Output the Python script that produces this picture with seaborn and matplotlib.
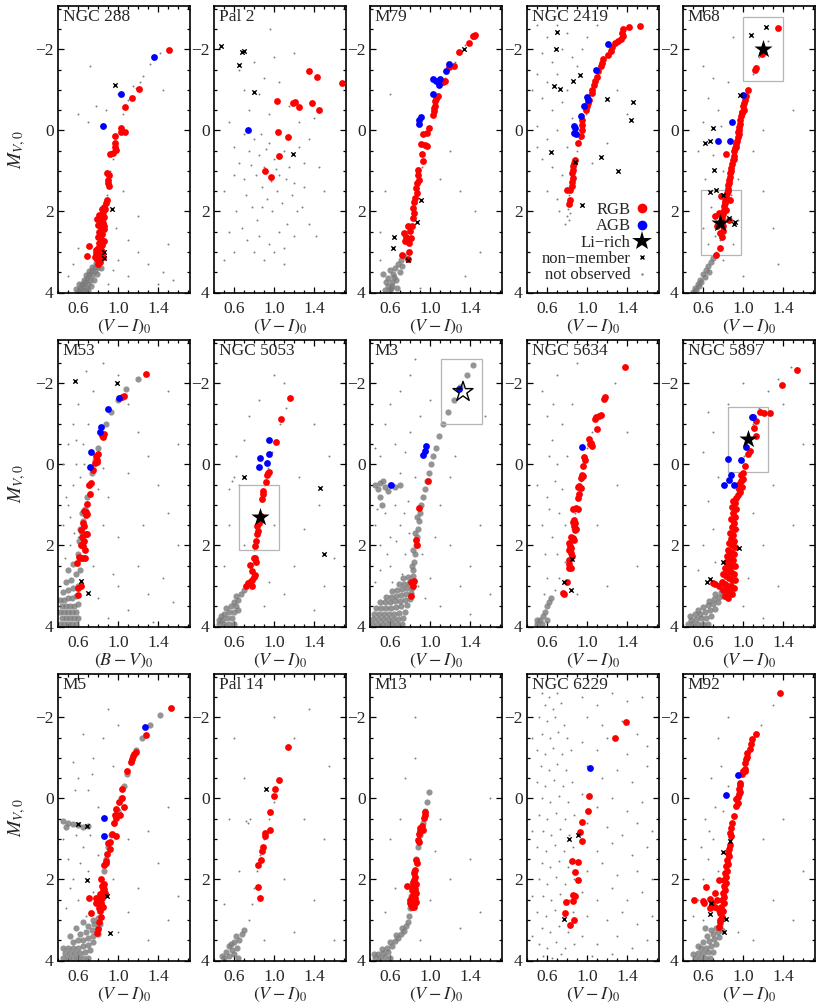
import matplotlib
matplotlib.use("Agg")
import matplotlib.pyplot as plt
import seaborn as sns
from matplotlib.lines import Line2D
from matplotlib.patches import Rectangle
from matplotlib.ticker import MultipleLocator

# ---------------- data (colour, M_V) ----------------
# NGC 288
n288_rgb = [(1.51,-1.99),(1.21,-1.02),(1.14,-0.79),(1.07,-0.58),(1.03,-0.05),(1.03,0.03),(1.07,0.05),
            (0.97,0.13),(0.97,0.30),(0.97,0.40),(0.98,0.49),(0.95,0.56),(0.92,0.58),(0.89,1.04),(0.91,1.09),
            (0.90,1.22),(0.90,1.30),(0.91,1.38),(0.89,1.72),(0.88,1.80),(0.86,1.88),(0.84,1.94),(0.85,2.02),
            (0.81,2.08),(0.83,2.12),(0.86,2.14),(0.79,2.18),(0.82,2.24),(0.85,2.28),(0.80,2.34),(0.83,2.40),
            (0.86,2.44),(0.81,2.50),(0.84,2.56),(0.80,2.62),(0.83,2.68),(0.86,2.72),(0.81,2.78),(0.84,2.84),
            (0.80,2.90),(0.83,2.96),(0.78,3.02),(0.81,3.08),(0.85,3.12),(0.79,3.18),(0.82,3.24),(0.80,3.30),
            (0.71,2.86),(0.69,3.09),(0.77,3.12),(0.84,3.00),(0.78,2.95),(0.86,2.35),(0.87,1.95)]
n288_agb = [(1.36,-1.81),(1.03,-0.90),(0.85,-0.12)]
n288_nm = [(0.97,-1.12),(0.94,1.94),(0.86,3.00),(0.86,3.14)]
n288_dense = [(0.60,3.98),(0.63,3.95),(0.66,3.97),(0.62,3.88),(0.65,3.85),(0.68,3.88),(0.64,3.78),(0.67,3.75),
              (0.70,3.78),(0.66,3.68),(0.69,3.65),(0.72,3.68),(0.68,3.58),(0.71,3.55),(0.74,3.58),(0.71,3.48),
              (0.74,3.45),(0.77,3.48),(0.74,3.38),(0.77,3.36),(0.80,3.38),(0.78,3.28),(0.81,3.25),(0.70,3.95),
              (0.73,3.85),(0.76,3.70),(0.79,3.55),(0.83,3.40),(0.58,3.92),(0.61,3.80)]
n288_field = [(0.84,3.10),(0.86,2.80),(0.84,2.50),(0.87,2.20),(0.85,1.90),(0.89,1.60),(0.90,1.30),(0.92,1.00),
              (0.95,0.70),(0.98,0.35),(1.02,0.00),(1.05,-0.40),(1.10,-0.75),(1.18,-1.05),(1.25,-1.35),
              (1.32,-1.65),(1.42,-1.90),(0.72,-1.60),(0.60,-0.40),(0.78,-0.60),(0.88,-0.50),(1.00,-0.90),
              (1.15,-1.10),(1.45,-1.00),(1.22,-1.20),(0.70,-0.20),(1.20,2.10),(1.05,1.50),(1.30,3.30),
              (1.45,3.50),(1.10,3.60),(0.95,3.45),(1.40,3.80),(1.55,3.70),(0.90,3.80),(1.00,3.20),(0.50,3.60),
              (0.55,3.30),(0.60,2.90),(1.20,3.00),(1.10,2.70),(0.98,2.40),(1.50,2.80)]

# Pal 2
pal2_rgb = [(1.35,-1.46),(1.43,-1.33),(1.68,-1.16),(1.03,-0.73),(1.19,-0.67),(1.21,-0.69),(1.25,-0.58),
            (1.38,-0.67),(1.45,-0.51),(1.04,0.04),(1.14,0.16),(1.05,0.62),(0.91,1.00),(0.97,1.15)]
pal2_agb = [(0.74,0.00)]
pal2_nm = [(0.47,-2.09),(0.68,-1.94),(0.70,-1.95),(0.65,-1.61),(0.80,-0.96),(1.19,0.59)]
pal2_field = [(0.55,-0.2),(0.60,0.4),(0.65,0.8),(0.70,1.2),(0.75,0.5),(0.80,0.2),(0.85,0.6),(0.90,0.9),
              (0.95,0.3),(1.00,0.7),(1.05,1.1),(1.10,0.5),(1.15,0.9),(1.20,1.3),(1.25,0.4),(1.30,0.8),
              (0.72,1.6),(0.78,1.9),(0.83,2.2),(0.88,1.4),(0.93,1.7),(0.98,2.0),(1.03,1.5),(1.08,1.8),
              (1.13,2.3),(1.18,1.6),(1.23,2.0),(1.28,1.9),(0.62,2.0),(0.68,2.4),(0.73,2.7),(0.85,2.6),
              (0.95,2.8),(1.05,2.5),(1.10,2.9),(1.20,2.6),(0.50,1.5),(0.55,2.5),(0.60,3.0),(0.80,3.0),
              (0.90,3.2),(1.00,3.0),(0.75,-0.5),(0.85,-0.9),(0.95,-0.4),(1.05,-1.2),(1.15,-0.6),(1.25,-0.2),
              (1.35,0.2),(1.40,-0.3),(1.45,0.9),(1.50,1.5),(1.35,2.3),(0.70,-1.0),(0.65,-1.5),(0.80,-1.7),
              (0.90,-1.3),(1.00,-1.8),(1.20,-1.9),(0.87,0.1),(0.92,0.45),(0.82,1.1),(0.77,0.85),(0.97,1.25),
              (1.02,0.95),(1.12,1.2),(0.88,1.9),(0.70,0.1),(0.60,1.1),(0.96,-2.5),(1.30,1.4),(1.42,2.6),
              (0.50,3.2),(1.10,3.3)]

# M79
m79_rgb = [(1.45,-2.35),(1.44,-2.34),(1.43,-2.32),(1.39,-2.16),(1.29,-1.93),(1.24,-1.60),(1.19,-1.56),
           (1.15,-1.23),(1.13,-1.19),(1.08,-0.86),(1.06,-0.77),(1.05,-0.73),(1.05,-0.61),(1.04,-0.55),
           (1.04,-0.47),(1.03,-0.39),(0.99,-0.07),(0.97,0.07),(0.93,0.08),(0.91,0.34),(0.95,0.36),
           (0.97,0.38),(0.92,0.58),(0.93,0.75),(0.88,0.97),(0.88,1.09),(0.89,1.22),(0.87,1.30),(0.86,1.42),
           (0.87,1.55),(0.85,1.67),(0.84,1.77),(0.83,1.92),(0.84,2.04),(0.83,2.16),(0.82,2.37),(0.80,2.49),
           (0.78,2.35),(0.74,2.53),(0.76,2.63),(0.78,2.72),(0.79,2.78),(0.81,2.66),(0.75,2.74),(0.79,3.00),
           (0.72,3.08),(0.78,3.17)]
m79_agb = [(1.19,-1.65),(1.16,-1.47),(1.03,-1.27),(1.10,-1.28),(1.06,-1.21),(1.09,-1.13),(1.03,-0.90),
           (0.91,-0.33),(0.89,-0.25),(0.89,-0.16)]
m79_nm = [(1.34,-2.02),(0.91,1.71),(0.87,2.26),(0.64,2.64),(0.63,2.91),(0.78,3.21)]
m79_dense = [(0.55,3.95),(0.58,3.85),(0.60,3.95),(0.62,3.75),(0.58,3.65),(0.63,3.55),(0.60,3.45),(0.65,3.40),
             (0.68,3.30),(0.62,3.85),(0.66,3.70),(0.70,3.50),(0.72,3.35),(0.56,3.75),(0.67,3.90),(0.61,3.90),
             (0.64,3.62),(0.53,3.55),(0.71,3.20),(0.74,3.10)]
m79_field = [(0.78,3.0),(0.80,2.6),(0.83,2.2),(0.86,1.8),(0.89,1.3),(0.92,0.9),(0.96,0.4),(1.00,0.0),
             (1.04,-0.5),(1.08,-0.9),(1.15,-1.3),(1.25,-1.7),(1.35,-2.1),(0.60,-0.9),(0.50,2.5),(1.10,1.2),
             (1.30,1.5),(1.45,2.0),(1.50,3.0),(1.35,3.6),(0.90,3.9),(0.50,3.2),(0.55,1.5),(1.20,0.5)]

# NGC 2419
n2419_rgb = [(1.53,-2.58),(1.42,-2.56),(1.36,-2.50),(1.35,-2.40),(1.36,-2.32),(1.34,-2.26),(1.31,-2.20),
             (1.28,-2.16),(1.25,-2.07),(1.24,-1.95),(1.21,-1.87),(1.16,-1.75),(1.15,-1.66),(1.14,-1.58),
             (1.11,-1.46),(1.10,-1.33),(1.08,-1.21),(1.07,-1.13),(1.05,-1.00),(1.05,-0.92),(1.02,-0.76),
             (1.01,-0.67),(1.00,-0.59),(0.99,-0.51),(0.95,-0.26),(0.95,-0.14),(0.95,-0.02),(0.94,0.15),
             (0.91,0.31),(0.88,0.72),(0.87,0.81),(0.86,0.89),(0.86,0.97),(0.85,1.05),(0.86,1.18),(0.85,1.28),
             (0.85,1.38),(0.83,1.47),(0.80,1.48),(0.83,1.71),(0.82,1.81)]
n2419_agb = [(1.21,-2.14),(1.09,-1.50),(1.00,-0.82),(1.01,-0.74),(0.97,-0.61),(0.94,-0.36),(0.87,-0.12),
             (0.88,-0.06),(0.87,0.07),(0.89,0.09)]
n2419_nm = [(0.70,-2.44),(0.69,-2.02),(0.93,-1.36),(0.86,-1.23),(0.67,-1.10),(0.73,-1.02),(1.20,-0.77),
            (1.46,-0.70),(1.44,-0.25),(0.64,0.54),(1.14,0.66),(1.31,1.01),(0.95,1.84),(0.88,0.79)]
n2419_field = [(0.82,2.2),(0.83,2.05),(0.81,1.95),(0.84,1.85),(0.82,1.6),(0.85,1.4),(0.84,1.2),(0.87,1.0),
               (0.86,0.8),(0.90,0.5),(0.93,0.2),(0.96,-0.1),(0.99,-0.4),(1.02,-0.7),(1.05,-1.0),(1.10,-1.3),
               (1.15,-1.65),(1.22,-2.0),(1.30,-2.2),(0.80,2.1),(0.83,1.7),(0.80,1.5),(0.50,-2.6),(0.60,-2.3),
               (0.70,-2.6),(0.80,-2.4),(0.55,-1.9),(0.65,-1.7),(0.75,-2.0),(0.85,-1.8),(0.50,-1.4),(0.60,-1.2),
               (0.70,-1.4),(0.80,-1.0),(0.90,-1.6),(0.55,-0.8),(0.65,-0.5),(0.75,-0.7),(0.85,-0.3),(0.50,-0.1),
               (0.60,0.2),(0.70,0.0),(0.80,0.4),(0.55,0.7),(0.65,0.9),(0.75,1.1),(0.60,1.5),(0.70,1.7),
               (1.00,-2.3),(1.10,-2.6),(0.95,-2.0),(1.30,-1.0),(1.40,-0.4),(1.20,0.3),(1.05,0.8),(0.72,2.0),
               (0.78,2.3),(0.50,0.4),(0.45,-1.0)]

# M68
m68_rgb = [(1.35,-2.52),(1.19,-1.89),(1.13,-1.54),(1.12,-1.48),(1.05,-1.00),(1.03,-0.84),(1.02,-0.76),
           (1.01,-0.67),(1.00,-0.59),(1.01,-0.51),(0.99,-0.43),(0.98,-0.35),(0.97,-0.25),(0.97,-0.16),
           (0.96,-0.08),(0.96,0.00),(0.96,0.08),(0.95,0.16),(0.94,0.25),(0.93,0.33),(0.92,0.44),(0.91,0.52),
           (0.91,0.63),(0.90,0.72),(0.89,0.82),(0.88,0.93),(0.87,1.04),(0.87,1.14),(0.86,1.23),(0.85,1.34),
           (0.85,1.45),(0.84,1.55),(0.83,1.65),(0.82,1.75),(0.81,1.86),(0.81,1.96),(0.80,2.06),(0.79,2.16),
           (0.79,2.27),(0.80,2.37),(0.80,2.49),(0.79,2.63),(0.78,1.63),(0.87,1.71),(0.76,2.04),(0.83,1.96),
           (0.72,2.12),(0.86,2.21),(0.74,2.37),(0.77,2.53),(0.985,-0.45),(0.95,0.05),(0.93,0.40),(0.905,0.70),
           (0.88,1.00),(0.86,1.30),(0.845,1.50),(0.82,1.80),(0.77,2.90),(0.73,3.07),(0.83,0.58)]
m68_agb = [(1.00,-0.88),(0.89,-0.20),(0.75,0.25),(0.87,0.26)]
m68_nm = [(1.23,-2.54),(1.08,-2.35),(0.97,-0.88),(0.70,-0.07),(0.67,0.25),(0.62,0.30),(0.71,0.97),
          (0.67,1.51),(0.73,1.46),(0.80,1.59),(0.86,2.16),(0.91,2.30),(0.92,2.27)]
m68_li = [(1.20,-2.01),(0.77,2.29)]
m68_boxes = [(1.00,-2.81,0.40,1.60),(0.58,1.47,0.40,1.60)]
m68_dense = [(0.50,3.98),(0.52,3.88),(0.55,3.78),(0.57,3.68),(0.60,3.55),(0.63,3.45),(0.65,3.35),(0.68,3.25),
             (0.70,3.15),(0.53,3.95),(0.56,3.85),(0.58,3.75),(0.62,3.62),(0.66,3.50)]
m68_field = [(0.73,3.0),(0.77,2.7),(0.80,2.3),(0.83,1.8),(0.86,1.3),(0.90,0.8),(0.93,0.3),(0.96,-0.2),
             (0.99,-0.6),(1.04,-1.0),(1.10,-1.4),(1.16,-1.8),(1.25,-2.2),(0.60,-1.6),(0.70,-1.3),(0.65,-0.8),
             (0.75,-0.5),(0.60,-0.2),(0.70,0.6),(0.80,1.0),(0.62,1.2),(0.68,1.9),(0.60,2.4),(0.72,2.6),
             (0.90,2.8),(0.95,2.2),(0.88,1.6),(0.95,1.2),(1.10,0.5),(1.20,0.0),(1.30,2.4),(1.35,3.3),
             (1.50,-0.5),(0.85,-1.2),(0.90,-2.3),(0.55,0.5),(0.78,-0.1),(0.80,3.2),(1.00,3.6),(1.20,1.5),
             (0.65,2.8)]

# M53
m53_rgb = [(1.28,-2.23),(1.06,-1.69),(1.04,-1.67),(0.86,-0.76),(0.85,-0.68),(0.84,-0.72),(0.80,-0.25),
           (0.78,-0.21),(0.79,-0.12),(0.77,-0.04),(0.79,-0.06),(0.75,0.14),(0.73,0.47),(0.71,0.52),
           (0.72,0.72),(0.69,0.97),(0.66,1.14),(0.68,1.18),(0.69,1.22),(0.68,1.26),(0.65,1.45),(0.66,1.53),
           (0.63,1.61),(0.68,1.71),(0.69,1.71),(0.64,1.79),(0.66,1.90),(0.63,1.98),(0.65,2.02),(0.67,2.11),
           (0.61,2.29),(0.65,2.31),(0.63,2.31),(0.59,2.44),(0.67,2.31),(0.63,3.00),(0.60,3.06),(0.60,3.22)]
m53_agb = [(1.01,-1.65),(0.90,-1.36),(0.83,-0.93),(0.82,-0.79),(0.73,-0.31),(0.72,0.07)]
m53_nm = [(0.57,-2.05),(0.99,-2.00),(0.63,2.87),(0.70,3.17)]
m53_dense = [(0.42,3.95),(0.46,3.95),(0.50,3.95),(0.54,3.95),(0.58,3.95),(0.44,3.80),(0.48,3.80),(0.52,3.80),
             (0.56,3.80),(0.60,3.80),(0.42,3.65),(0.46,3.65),(0.50,3.65),(0.54,3.65),(0.58,3.65),(0.44,3.50),
             (0.48,3.50),(0.52,3.50),(0.56,3.50),(0.60,3.45),(0.42,3.35),(0.46,3.35),(0.50,3.30),(0.54,3.30),
             (0.58,3.25),(0.45,3.15),(0.50,3.10),(0.55,3.05),(0.60,3.00),(0.48,2.90),(0.53,2.85),(0.58,2.70),
             (0.62,2.60),(0.50,2.60),(0.55,2.45),(0.62,2.30),(0.63,2.00),(0.64,1.70),(0.65,1.40),(0.67,1.10),
             (0.69,0.80),(0.71,0.50),(0.74,0.20),(0.77,-0.10),(0.80,-0.40),(0.84,-0.70),(0.88,-1.00),
             (0.93,-1.30),(1.00,-1.60),(1.08,-1.85),(1.20,-2.10),(0.60,2.20),(0.61,1.90),(0.62,1.60),(0.64,1.20)]
m53_field = [(0.45,1.5),(0.50,1.0),(0.55,0.5),(0.45,0.0),(0.50,-0.5),(0.55,-1.0),(0.60,1.8),(0.52,2.0),
             (0.58,0.0),(0.65,-0.5),(0.70,-1.0),(0.60,-1.5),(0.75,-1.8),(0.68,-2.3),(0.85,-2.5),(1.00,-2.2),
             (1.10,-1.5),(1.20,-0.8),(1.30,-0.2),(1.40,0.5),(1.50,1.2),(1.60,2.0),(1.45,2.8),(1.55,3.4),
             (1.30,3.2),(1.20,2.5),(1.00,1.8),(0.90,0.8),(1.10,0.2),(0.95,2.7),(0.80,3.3),(0.90,3.8),
             (1.10,3.6),(1.35,3.9),(1.25,1.5),(0.85,1.5),(0.75,2.5),(1.00,3.0),(1.60,-0.5),(1.50,-1.8),
             (0.48,0.8),(0.52,1.3),(0.56,1.7),(0.47,2.3),(0.62,0.3),(0.66,0.0),(0.72,-0.3),(0.58,-0.6),
             (0.80,0.6),(0.85,0.1)]

# NGC 5053
n5053_rgb = [(1.16,-1.65),(1.07,-1.12),(1.02,-0.55),(0.95,0.19),(0.94,0.21),(0.93,0.26),(0.92,0.43),
             (0.89,0.66),(0.89,0.74),(0.88,0.85),(0.87,1.28),(0.85,1.45),(0.83,1.53),(0.84,1.65),(0.83,1.71),
             (0.82,1.90),(0.81,2.02),(0.81,2.31),(0.82,2.40),(0.80,2.31),(0.76,2.48),(0.78,2.62),(0.81,2.73),
             (0.80,2.79),(0.78,2.85),(0.76,2.89),(0.74,2.93),(0.72,3.00),(0.78,3.00)]
n5053_agb = [(0.95,-0.60),(0.86,-0.17),(0.95,-0.26),(0.85,0.06),(0.93,-0.04)]
n5053_nm = [(0.70,0.30),(1.46,0.58),(1.50,2.21)]
n5053_li = [(0.86,1.30)]
n5053_boxes = [(0.65,0.50,0.40,1.61)]
n5053_dense = [(0.45,3.95),(0.50,3.95),(0.55,3.95),(0.60,3.95),(0.48,3.85),(0.53,3.80),(0.58,3.80),(0.50,3.70),
               (0.55,3.65),(0.60,3.65),(0.52,3.55),(0.57,3.50),(0.62,3.50),(0.60,3.40),(0.64,3.35),(0.62,3.25),
               (0.67,3.20),(0.70,3.10),(0.47,3.75),(0.64,3.60),(0.45,3.85)]
n5053_field = [(0.74,2.9),(0.78,2.5),(0.80,2.1),(0.82,1.7),(0.84,1.3),(0.87,0.9),(0.90,0.5),(0.94,0.1),
               (0.98,-0.3),(1.02,-0.6),(1.06,-1.0),(1.12,-1.4),(0.60,0.3),(0.65,0.5),(0.55,0.6),(0.70,-0.6),
               (0.75,-1.2),(0.85,-1.6),(1.00,-2.2),(1.10,-2.0),(1.40,-1.0),(1.55,-0.2),(1.45,1.0),(1.30,1.6),
               (1.20,2.5),(1.50,3.0),(1.40,3.6),(1.10,3.2),(0.95,2.9),(0.90,3.5),(1.60,2.3),(0.55,1.5),
               (0.50,2.5),(0.70,2.0),(1.00,1.5),(1.25,0.3),(0.62,-0.2),(0.58,0.4)]

# M3
m3_rgb = [(0.98,0.41),(0.89,1.07),(0.86,1.86),(0.87,2.00),(0.84,2.87),(0.81,2.91),(0.83,3.00),(0.81,3.25)]
m3_agb = [(1.29,-1.86),(0.96,-0.45),(0.95,-0.33),(0.93,-0.22),(0.61,0.50)]
m3_li_open = [(1.33,-1.79)]
m3_boxes = [(1.11,-2.59,0.41,1.59)]
m3_dense = [(0.42,3.95),(0.47,3.95),(0.52,3.95),(0.57,3.95),(0.62,3.95),(0.67,3.95),(0.72,3.95),
            (0.43,3.82),(0.48,3.82),(0.53,3.82),(0.58,3.82),(0.63,3.82),(0.68,3.82),(0.73,3.80),
            (0.44,3.68),(0.49,3.68),(0.54,3.68),(0.59,3.68),(0.64,3.68),(0.69,3.66),(0.75,3.64),
            (0.46,3.54),(0.51,3.54),(0.56,3.54),(0.61,3.54),(0.66,3.52),(0.71,3.50),(0.77,3.48),
            (0.50,3.40),(0.55,3.40),(0.60,3.40),(0.65,3.38),(0.70,3.36),(0.75,3.34),(0.80,3.32),
            (0.56,3.26),(0.61,3.26),(0.66,3.24),(0.71,3.22),(0.76,3.20),(0.81,3.18),
            (0.62,3.12),(0.67,3.10),(0.72,3.08),(0.77,3.06),(0.82,3.04),
            (0.69,2.96),(0.74,2.94),(0.79,2.92),(0.83,2.90),(0.73,2.80),(0.78,2.78),(0.83,2.76),
            (0.83,2.60),(0.84,2.40),(0.85,2.20),(0.86,2.00),(0.87,1.80),(0.88,1.60),(0.89,1.40),
            (0.90,1.20),(0.91,1.00),(0.93,0.80),(0.95,0.60),(0.97,0.40),(0.99,0.20),(1.01,0.00),
            (1.03,-0.20),(1.06,-0.40),(1.09,-0.70),(1.13,-1.00),(1.18,-1.30),(1.24,-1.60),(1.30,-1.90),
            (1.37,-2.20),(1.43,-2.45),(0.82,2.50),(0.83,2.10),(0.85,1.70),(0.87,1.30),
            (0.45,0.50),(0.50,0.45),(0.55,0.55),(0.60,0.50),(0.65,0.55),(0.70,0.50),(0.48,0.60),
            (0.53,0.40),(0.58,0.65),(0.50,0.80),(0.52,1.00)]
m3_field = [(0.45,1.5),(0.50,2.0),(0.55,1.2),(0.60,1.8),(0.65,1.0),(0.70,1.5),(0.75,2.2),(0.60,2.5),
            (0.50,2.6),(0.70,0.2),(0.75,-0.3),(0.80,-0.8),(0.65,-0.5),(0.55,-1.0),(0.60,-1.5),(0.70,-1.8),
            (0.80,-2.2),(0.85,-2.6),(0.90,-1.2),(1.00,-1.6),(1.10,1.0),(1.20,2.0),(1.30,3.0),(1.40,2.5),
            (1.50,1.5),(1.10,3.5),(1.00,2.8),(0.95,3.3),(1.20,0.3),(1.05,1.8),(1.40,3.7),(1.60,3.2),
            (0.45,-0.4),(0.50,-0.2),(0.45,2.9),(0.78,0.9),(0.85,0.3),(0.72,2.7),(1.25,-0.2),(1.55,-1.2),
            (0.88,3.0),(0.92,2.2),(0.47,1.1),(0.57,2.2),(0.66,1.9),(0.74,1.2),(0.79,1.7),(0.62,2.9)]

# NGC 5634
n5634_rgb = [(1.38,-2.41),(1.18,-1.67),(1.17,-1.61),(1.14,-1.21),(1.12,-1.20),(1.09,-1.16),(1.08,-1.13),
             (1.10,-0.88),(1.02,-0.62),(1.04,-0.54),(1.05,-0.45),(1.03,-0.50),(0.97,-0.18),(0.98,-0.12),
             (0.96,0.04),(0.95,0.25),(0.94,0.33),(0.96,0.29),(0.92,0.54),(0.91,0.55),(0.94,0.58),(0.92,0.74),
             (0.91,0.83),(0.89,1.07),(0.86,1.09),(0.91,1.09),(0.87,1.36),(0.86,1.43),(0.88,1.45),(0.87,1.53),
             (0.89,1.60),(0.88,1.61),(0.84,1.78),(0.86,1.82),(0.87,1.86),(0.82,1.94),(0.83,2.02),(0.84,2.07),
             (0.82,2.11),(0.84,2.19),(0.85,2.27),(0.82,2.36),(0.82,2.45),(0.84,2.56),(0.82,2.56),(0.80,2.91),
             (0.76,3.18),(0.77,3.21)]
n5634_agb = [(0.95,-0.44)]
n5634_nm = [(0.77,2.91),(0.84,3.10),(0.85,2.34)]
n5634_dense = [(0.50,3.95),(0.53,3.85),(0.56,3.75),(0.55,3.95),(0.58,3.65),(0.60,3.50),(0.62,3.40),(0.64,3.30),
               (0.50,3.85),(0.60,3.85)]
n5634_field = [(0.68,3.1),(0.72,2.8),(0.78,2.4),(0.82,2.0),(0.85,1.6),(0.88,1.2),(0.91,0.8),(0.94,0.4),
               (0.97,0.0),(1.00,-0.4),(1.05,-0.8),(1.10,-1.2),(1.18,-1.6),(1.28,-2.0),(0.55,-1.8),(0.60,-1.2),
               (0.65,-0.6),(0.70,0.0),(0.75,0.6),(0.60,0.8),(0.55,1.5),(0.65,1.8),(0.70,2.2),(0.60,2.8),
               (0.80,-0.2),(0.75,-1.0),(0.85,-1.5),(0.70,-2.2),(0.90,-2.5),(0.62,-0.2),(0.68,0.4),(0.72,1.2),
               (0.78,1.5),(0.58,2.2),(0.50,0.5),(1.10,1.5),(1.30,0.5),(1.50,2.5),(1.20,3.0),(0.90,3.2),
               (1.40,-0.8),(0.66,-1.5),(0.62,1.1),(0.57,3.2)]

# NGC 5897
n5897_rgb = [(1.54,-2.34),(1.39,-1.97),(1.27,-1.26),(1.17,-1.30),(1.21,-1.26),(1.13,-1.07),(1.11,-0.89),
             (1.13,-0.69),(1.07,-0.33),(1.05,-0.25),(1.02,0.04),(1.00,0.20),(0.98,0.25),(1.00,0.35),
             (0.98,0.42),(0.96,0.48),(0.99,0.55),(0.96,0.60),(0.97,0.68),(0.95,0.75),(0.93,0.82),
             (0.90,0.90),(0.92,0.95),(0.89,1.05),(0.93,1.10),(0.90,1.20),(0.92,1.30),(0.88,1.35),(0.91,1.45),
             (0.89,1.55),(0.92,1.60),(0.87,1.70),(0.90,1.75),(0.88,1.85),(0.91,1.90),(0.86,1.95),(0.89,2.00),
             (0.92,2.05),(0.85,2.10),(0.88,2.15),(0.91,2.20),(0.84,2.25),(0.87,2.30),(0.90,2.35),(0.83,2.40),
             (0.86,2.45),(0.89,2.50),(0.92,2.50),(0.82,2.55),(0.85,2.60),(0.88,2.65),(0.91,2.70),(0.80,2.70),
             (0.83,2.75),(0.86,2.80),(0.89,2.85),(0.92,2.85),(0.79,2.90),(0.82,2.95),(0.85,3.00),(0.88,3.00),
             (0.91,3.05),(0.76,3.00),(0.80,3.10),(0.83,3.10),(0.86,3.15),(0.89,3.20),(0.82,3.25),(0.85,3.30),
             (0.72,2.95),(0.70,2.93)]
n5897_agb = [(1.09,-1.17),(1.10,-1.17),(1.03,-0.44),(0.85,-0.14),(0.98,-0.12),(0.88,0.27),(0.86,0.39),
             (0.91,0.50),(0.81,0.52)]
n5897_nm = [(0.96,2.07),(0.80,2.42),(0.67,2.83),(0.64,2.89)]
n5897_li = [(1.05,-0.62)]
n5897_boxes = [(0.85,-1.42,0.40,1.60)]
n5897_dense = [(0.45,3.95),(0.50,3.95),(0.55,3.95),(0.60,3.95),(0.65,3.95),(0.48,3.85),(0.53,3.82),(0.58,3.80),
               (0.63,3.78),(0.68,3.75),(0.52,3.70),(0.57,3.68),(0.62,3.65),(0.67,3.60),(0.72,3.58),(0.60,3.52),
               (0.65,3.48),(0.70,3.45),(0.75,3.40),(0.66,3.38),(0.71,3.32),(0.76,3.28),(0.80,3.25),(0.72,3.20),
               (0.78,3.15),(0.55,3.60),(0.47,3.75)]
n5897_field = [(0.82,3.0),(0.83,2.6),(0.84,2.2),(0.86,1.8),(0.88,1.4),(0.90,1.0),(0.93,0.6),(0.97,0.2),
               (1.01,-0.2),(1.05,-0.6),(1.10,-1.0),(1.16,-1.4),(1.25,-1.8),(1.35,-2.1),(1.48,-2.4),(0.70,-0.8),
               (0.60,-0.3),(0.75,0.3),(0.65,0.9),(0.70,1.6),(0.60,2.0),(0.72,2.4),(1.10,1.2),(1.20,2.0),
               (1.30,0.5),(1.40,-1.5),(1.00,-2.0),(0.85,-1.5),(1.50,1.5),(1.35,3.0),(1.05,2.8),(1.00,3.5),
               (1.20,3.8),(0.55,2.6),(0.65,-1.3),(0.95,1.6),(1.60,-0.5)]

# M5
m5_rgb = [(1.53,-2.23),(1.28,-1.56),(1.18,-1.15),(1.16,-1.09),(1.15,-1.05),(1.14,-0.98),(1.13,-0.90),
          (1.09,-0.68),(1.04,-0.24),(1.04,-0.02),(1.01,0.08),(1.06,0.21),(0.98,0.27),(0.97,0.42),(1.02,0.42),
          (0.98,0.48),(0.96,0.60),(0.94,0.89),(0.98,0.93),(0.92,1.07),(0.90,1.10),(0.92,1.25),(0.89,1.36),
          (0.88,1.55),(0.86,1.64),(0.88,1.60),(0.83,1.99),(0.86,2.11),(0.84,2.17),(0.86,2.23),(0.87,2.34),
          (0.82,2.36),(0.84,2.46),(0.83,2.57),(0.81,2.71),(0.83,2.63),(0.82,2.77),(0.83,2.92),(0.81,3.04),
          (0.80,3.23),(0.79,3.33),(0.71,2.47),(0.78,2.47),(0.78,2.59),(0.73,2.83),(0.85,2.26),(0.82,2.50),
          (0.85,2.67)]
m5_agb = [(1.27,-1.75),(0.86,0.49),(0.86,0.92)]
m5_nm = [(0.60,0.62),(0.69,0.69),(0.69,2.02),(0.89,2.40),(0.92,3.31)]
m5_dense = [(0.45,3.95),(0.50,3.95),(0.55,3.95),(0.60,3.95),(0.65,3.95),(0.70,3.95),(0.47,3.82),(0.52,3.82),
            (0.57,3.82),(0.62,3.82),(0.67,3.80),(0.72,3.75),(0.50,3.68),(0.55,3.68),(0.60,3.68),(0.65,3.65),
            (0.70,3.62),(0.75,3.55),(0.55,3.55),(0.60,3.50),(0.65,3.50),(0.70,3.45),(0.75,3.40),(0.80,3.35),
            (0.62,3.35),(0.68,3.30),(0.74,3.25),(0.80,3.20),(0.70,3.15),(0.76,3.10),(0.82,3.10),(0.75,3.00),
            (0.80,2.95),(0.58,3.20),(0.52,3.40),(0.45,3.70),(0.65,3.05),(0.83,2.70),(0.84,2.40),(0.85,2.10),
            (0.86,1.80),(0.88,1.50),(0.90,1.20),(0.93,0.90),(0.96,0.60),(1.00,0.30),(1.03,0.00),(1.06,-0.30),
            (1.09,-0.60),(1.13,-0.90),(1.18,-1.20),(1.24,-1.50),(1.32,-1.80),(1.42,-2.05),(0.45,0.55),
            (0.50,0.60),(0.55,0.62),(0.60,0.65),(0.65,0.70),(0.70,0.68),(0.48,0.70)]
m5_field = [(0.50,1.5),(0.55,2.0),(0.60,2.5),(0.65,1.2),(0.70,1.8),(0.75,2.3),(0.60,-0.5),(0.70,-0.2),
            (0.80,0.2),(0.75,-1.0),(0.85,-1.5),(0.90,-2.2),(1.00,-1.8),(0.65,-1.6),(0.55,-0.9),(0.95,-0.8),
            (1.10,1.0),(1.20,2.2),(1.30,0.8),(1.40,1.6),(1.50,3.0),(1.30,3.5),(1.10,2.8),(1.00,3.3),
            (0.95,2.0),(1.50,0.2),(1.60,2.4),(0.48,2.7),(0.58,0.9),(0.72,0.9),(0.80,1.4),(0.68,2.9),
            (0.52,2.2),(0.62,1.6),(0.45,1.0),(0.57,-0.2),(0.74,-0.6)]

# Pal 14
pal14_rgb = [(1.14,-1.26),(1.05,-0.45),(1.01,-0.22),(1.00,-0.06),(0.96,0.34),(0.96,0.77),(0.91,0.85),
             (0.91,0.93),(0.89,1.20),(0.88,1.31),(0.87,1.51),(0.84,1.64),(0.84,2.19),(0.86,2.45)]
pal14_nm = [(0.92,-0.24)]
pal14_dense = [(0.50,3.95),(0.55,3.90),(0.60,3.85),(0.52,3.80),(0.58,3.75),(0.63,3.70),(0.55,3.65),(0.60,3.55),
               (0.65,3.50),(0.62,3.40),(0.68,3.35),(0.70,3.25),(0.48,3.90),(0.64,3.95),(0.57,3.60)]
pal14_field = [(0.75,3.0),(0.78,2.6),(0.80,2.2),(0.83,1.8),(0.86,1.4),(0.90,1.0),(0.95,0.5),(1.00,0.1),
               (1.06,-0.4),(0.72,0.55),(0.74,0.60),(0.76,0.50),(0.60,-1.5),(0.70,-0.5),(0.55,0.5),(1.00,-2.0),
               (1.20,-1.5),(1.30,0.5),(1.50,1.0),(1.40,2.5),(1.20,3.3),(0.90,3.5),(1.55,-0.8),(0.65,1.8),
               (1.10,2.0),(0.50,2.6),(1.35,-2.2),(1.60,3.5)]

# M13
m13_rgb = [(0.95,0.34),(0.95,0.40),(0.94,0.48),(0.92,0.67),(0.90,0.73),(0.93,0.77),(0.90,0.81),(0.89,0.89),
           (0.88,1.02),(0.89,1.08),(0.86,1.51),(0.87,1.60),(0.85,1.76),(0.84,1.84),(0.85,1.93),(0.84,2.01),
           (0.83,2.07),(0.86,2.11),(0.83,2.17),(0.85,2.24),(0.82,2.26),(0.86,2.34),(0.83,2.38),(0.82,2.44),
           (0.85,2.46),(0.80,2.50),(0.83,2.55),(0.85,2.59),(0.81,2.63),(0.83,2.65),(0.86,2.55),(0.82,2.67),
           (0.77,2.15),(0.80,2.57),(0.84,2.69)]
m13_dense = [(0.45,3.95),(0.50,3.95),(0.55,3.92),(0.48,3.85),(0.53,3.82),(0.58,3.78),(0.52,3.72),(0.57,3.68),
             (0.62,3.65),(0.60,3.55),(0.65,3.52),(0.68,3.45),(0.66,3.38),(0.71,3.35),(0.74,3.28),(0.72,3.20),
             (0.76,3.15),(0.78,3.05),(0.60,3.95),(0.44,3.85),(0.79,2.90),(0.80,2.70),(0.81,2.40),(0.82,2.10),
             (0.84,1.80),(0.86,1.50),(0.88,1.20),(0.90,0.90),(0.93,0.60),(0.95,0.30),(0.97,0.10),(0.99,-0.15)]
m13_field = [(0.60,1.0),(0.70,0.5),(0.75,-0.5),(0.85,-2.0),(1.10,0.5),(1.20,2.0),(1.40,1.5),(1.30,3.2),
             (1.50,2.8),(0.90,3.5),(1.00,2.5),(0.65,2.2),(0.55,2.8),(1.60,0.0),(0.85,-1.0),(1.05,1.3)]

# NGC 6229
n6229_rgb = [(1.39,-1.89),(1.28,-1.50),(1.02,-0.06),(1.01,0.30),(0.95,0.58),(0.93,0.83),(0.95,1.04),
             (0.85,1.54),(0.91,1.57),(0.88,1.82),(0.91,2.01),(0.86,2.38),(0.88,2.40),(0.79,2.56),(0.86,2.52),
             (0.78,2.82),(0.87,3.00),(0.83,3.12)]
n6229_agb = [(1.03,-0.76)]
n6229_nm = [(0.82,0.99),(0.91,0.91),(0.77,2.97)]
n6229_field = [(0.55,-2.6),(0.62,-2.5),(0.70,-2.6),(0.58,-2.3),(0.66,-2.2),(0.74,-2.35),(0.52,-2.0),(0.60,-1.9),
               (0.68,-2.0),(0.77,-1.8),(0.55,-1.6),(0.63,-1.5),(0.71,-1.65),(0.80,-1.5),(0.50,-1.2),(0.58,-1.1),
               (0.66,-1.25),(0.75,-1.1),(0.84,-1.2),(0.54,-0.8),(0.62,-0.7),(0.70,-0.85),(0.79,-0.7),(0.50,-0.4),
               (0.58,-0.3),(0.67,-0.45),(0.76,-0.3),(0.85,-0.4),(0.55,0.0),(0.63,0.1),(0.72,-0.05),(0.81,0.1),
               (0.52,0.4),(0.60,0.5),(0.69,0.35),(0.78,0.5),(0.87,0.4),(0.56,0.8),(0.64,0.9),(0.73,0.75),
               (0.82,0.9),(0.50,1.2),(0.59,1.3),(0.68,1.15),(0.77,1.3),(0.86,1.2),(0.55,1.6),(0.63,1.7),
               (0.72,1.55),(0.81,1.7),(0.52,2.0),(0.60,2.1),(0.69,1.95),(0.78,2.1),(0.87,2.0),(0.56,2.4),
               (0.64,2.5),(0.73,2.35),(0.82,2.5),(0.50,2.8),(0.59,2.9),(0.68,2.75),(0.77,2.9),(0.86,2.8),
               (0.55,3.2),(0.63,3.3),(0.72,3.15),(0.81,3.3),(0.52,3.6),(0.60,3.7),(0.69,3.55),(0.78,3.7),
               (0.87,3.6),(0.56,3.9),(0.65,3.95),(0.74,3.85),(0.95,-2.5),(1.10,-2.3),(1.25,-2.6),(1.40,-2.4),
               (1.55,-2.5),(1.00,-2.0),(1.15,-1.8),(1.35,-1.9),(1.50,-1.6),(0.95,-1.4),(1.10,-1.2),(1.20,-1.5),
               (1.40,-1.1),(1.60,-1.3),(1.00,-0.8),(1.15,-0.5),(1.30,-0.7),(1.45,-0.4),(1.60,-0.8),(0.95,-0.1),
               (1.10,0.2),(1.25,0.0),(1.40,0.3),(1.55,0.1),(1.00,0.6),(1.20,0.7),(1.35,0.9),(1.50,0.6),
               (1.65,0.8),(0.95,1.1),(1.10,1.3),(1.25,1.1),(1.45,1.4),(1.60,1.2),(1.00,1.8),(1.15,1.6),
               (1.30,1.9),(1.50,1.8),(1.65,2.0),(0.95,2.3),(1.10,2.5),(1.25,2.2),(1.40,2.5),(1.55,2.3),
               (1.00,2.9),(1.20,3.0),(1.35,2.8),(1.50,3.1),(1.65,2.9),(0.95,3.4),(1.10,3.6),(1.30,3.4),
               (1.45,3.7),(1.60,3.5),(1.05,3.9),(1.25,3.85),(0.45,-1.5),(0.45,0.8),(0.45,2.4),(0.45,3.4)]

# M92
m92_rgb = [(1.37,-2.61),(1.13,-1.59),(1.09,-1.46),(1.08,-1.34),(1.07,-1.21),(1.04,-1.12),(1.04,-1.01),
           (1.03,-0.97),(1.02,-0.88),(1.02,-0.72),(1.02,-0.68),(1.00,-0.68),(0.99,-0.60),(0.97,-0.39),
           (0.97,-0.32),(0.96,-0.24),(0.97,-0.16),(0.96,-0.10),(0.95,-0.04),(0.93,0.02),(0.95,0.11),
           (0.93,0.19),(0.91,0.44),(0.89,0.60),(0.88,0.73),(0.87,0.85),(0.88,0.93),(0.87,1.14),(0.86,1.26),
           (0.85,1.35),(0.86,1.43),(0.84,1.51),(0.85,1.61),(0.83,1.68),(0.84,1.78),(0.82,1.84),(0.83,1.93),
           (0.81,2.01),(0.83,2.09),(0.81,2.17),(0.82,2.26),(0.80,2.34),(0.81,2.44),(0.79,2.50),(0.81,2.59),
           (0.78,2.67),(0.80,2.77),(0.77,2.83),(0.79,2.93),(0.77,3.04),(0.76,3.17),(0.77,3.00),(0.76,2.01),
           (0.74,2.50),(0.72,2.67),(0.76,2.75),(0.51,2.50),(0.60,2.52),(0.61,2.57),(0.63,2.19),(0.67,2.49),
           (0.69,2.59),(0.67,2.71),(0.72,2.34)]
m92_agb = [(0.95,-0.57),(0.83,-0.08)]
m92_nm = [(0.87,1.04),(0.80,1.33),(0.68,2.59),(0.67,2.85),(0.83,2.97),(0.81,3.29)]
m92_dense = [(0.52,3.95),(0.57,3.95),(0.62,3.95),(0.67,3.95),(0.55,3.82),(0.60,3.82),(0.65,3.80),(0.70,3.78),
             (0.58,3.68),(0.63,3.68),(0.68,3.65),(0.73,3.60),(0.60,3.55),(0.66,3.52),(0.71,3.48),(0.76,3.42),
             (0.64,3.40),(0.70,3.35),(0.75,3.30),(0.79,3.25),(0.68,3.25),(0.73,3.20),(0.77,3.12),(0.55,3.65),
             (0.50,3.85),(0.62,3.20)]
m92_field = [(0.78,3.0),(0.79,2.6),(0.80,2.2),(0.82,1.8),(0.84,1.4),(0.87,1.0),(0.90,0.6),(0.93,0.2),
             (0.96,-0.2),(1.00,-0.6),(1.04,-1.0),(1.10,-1.4),(1.18,-1.8),(1.30,-2.3),(0.55,2.5),(0.60,2.0),
             (0.65,1.5),(0.70,1.0),(0.62,0.5),(0.72,0.2),(0.68,-0.5),(0.78,-0.8),(0.75,-1.5),(0.85,-2.0),
             (0.60,3.0),(0.50,2.9),(0.70,2.6),(0.75,1.8),(1.20,1.0),(1.30,2.5),(1.50,3.0),(1.40,0.5),
             (1.10,3.5),(0.95,3.3),(1.60,1.8),(0.58,1.2),(0.66,0.8),(0.80,0.3),(0.85,-0.3)]

# ---------------- style ----------------
sns.set_style("ticks")
plt.rcParams['font.family'] = ['Liberation Serif', 'DejaVu Serif']
plt.rcParams['mathtext.fontset'] = 'stix'

RED = '#ff0000'
BLUE = '#0000ff'
GREY = '#808080'
VI = r'$(V-I)_0$'
BV = r'$(B-V)_0$'


def xy(lst):
    return [p[0] for p in lst], [p[1] for p in lst]


def draw_panel(ax, name, field, dense, rgb, agb, nm, li=(), li_open=(), boxes=(), xlabel=VI):
    if field:
        x, y = xy(field)
        sns.scatterplot(x=x, y=y, ax=ax, s=2.0, color=GREY, linewidth=0)
    if dense:
        x, y = xy(dense)
        sns.scatterplot(x=x, y=y, ax=ax, s=20, color='#7a7a7a', alpha=0.8, linewidth=0)
    for b in boxes:
        ax.add_patch(Rectangle((b[0], b[1]), b[2], b[3], fill=False, ec='#b5b5b5', lw=0.9, zorder=2))
    if rgb:
        x, y = xy(rgb)
        sns.scatterplot(x=x, y=y, ax=ax, s=24, color=RED, linewidth=0, zorder=3)
    if agb:
        x, y = xy(agb)
        sns.scatterplot(x=x, y=y, ax=ax, s=24, color=BLUE, linewidth=0, zorder=3)
    if nm:
        x, y = xy(nm)
        sns.scatterplot(x=x, y=y, ax=ax, s=10, marker='x', color='black', linewidth=1.0, zorder=4)
    if li:
        x, y = xy(li)
        sns.scatterplot(x=x, y=y, ax=ax, s=190, marker='*', color='black', linewidth=0, zorder=5)
    if li_open:
        x, y = xy(li_open)
        ax.scatter(x, y, s=230, marker='*', facecolors='none', edgecolors='black', linewidths=1.0, zorder=5)

    ax.set_xlim(0.4, 1.72)
    ax.set_ylim(4, -3.07)
    ax.set_xticks([0.6, 1.0, 1.4])
    ax.set_yticks([-2, 0, 2, 4])
    ax.xaxis.set_minor_locator(MultipleLocator(0.1))
    ax.yaxis.set_minor_locator(MultipleLocator(0.5))
    ax.tick_params(which='both', direction='in', top=True, right=True, width=0.9, color='black')
    ax.tick_params(which='major', length=4.5, labelsize=12.5)
    ax.tick_params(which='minor', length=2.3)
    ax.tick_params(axis='x', which='major', pad=6)
    ax.tick_params(axis='y', which='major', pad=3)
    for sp in ax.spines.values():
        sp.set_linewidth(1.2)
        sp.set_color('black')
    ax.set_xlabel(xlabel, fontsize=13, labelpad=1)
    ax.set_ylabel('')
    ax.text(0.035, 0.988, name, transform=ax.transAxes, ha='left', va='top', fontsize=12.5)


fig = plt.figure(figsize=(8.3, 10.08), dpi=100)
W, H = 830.0, 1008.0
lefts = [58, 214, 370, 527, 683]
tops = [6, 340, 674]
pw, ph = 132, 286.5
axes = []
for r in range(3):
    for c in range(5):
        ax = fig.add_axes([lefts[c] / W, 1 - (tops[r] + ph) / H, pw / W, ph / H])
        axes.append(ax)

draw_panel(axes[0], 'NGC 288', n288_field, n288_dense, n288_rgb, n288_agb, n288_nm)
draw_panel(axes[1], 'Pal 2', pal2_field, [], pal2_rgb, pal2_agb, pal2_nm)
draw_panel(axes[2], 'M79', m79_field, m79_dense, m79_rgb, m79_agb, m79_nm)
draw_panel(axes[3], 'NGC 2419', n2419_field, [], n2419_rgb, n2419_agb, n2419_nm)
draw_panel(axes[4], 'M68', m68_field, m68_dense, m68_rgb, m68_agb, m68_nm, li=m68_li, boxes=m68_boxes)
draw_panel(axes[5], 'M53', m53_field, m53_dense, m53_rgb, m53_agb, m53_nm, xlabel=BV)
draw_panel(axes[6], 'NGC 5053', n5053_field, n5053_dense, n5053_rgb, n5053_agb, n5053_nm,
           li=n5053_li, boxes=n5053_boxes)
draw_panel(axes[7], 'M3', m3_field, m3_dense, m3_rgb, m3_agb, [], li_open=m3_li_open, boxes=m3_boxes)
draw_panel(axes[8], 'NGC 5634', n5634_field, n5634_dense, n5634_rgb, n5634_agb, n5634_nm)
draw_panel(axes[9], 'NGC 5897', n5897_field, n5897_dense, n5897_rgb, n5897_agb, n5897_nm,
           li=n5897_li, boxes=n5897_boxes)
draw_panel(axes[10], 'M5', m5_field, m5_dense, m5_rgb, m5_agb, m5_nm)
draw_panel(axes[11], 'Pal 14', pal14_field, pal14_dense, pal14_rgb, [], pal14_nm)
draw_panel(axes[12], 'M13', m13_field, m13_dense, m13_rgb, [], [])
draw_panel(axes[13], 'NGC 6229', n6229_field, [], n6229_rgb, n6229_agb, n6229_nm)
draw_panel(axes[14], 'M92', m92_field, m92_dense, m92_rgb, m92_agb, m92_nm)

for r in range(3):
    axes[r * 5].set_ylabel(r'$M_{V,0}$', fontsize=14, labelpad=5)

# legend in the NGC 2419 panel
handles = [
    Line2D([], [], ls='none', marker='o', color=RED, markersize=7, markeredgewidth=0),
    Line2D([], [], ls='none', marker='o', color=BLUE, markersize=7, markeredgewidth=0),
    Line2D([], [], ls='none', marker='*', color='black', markersize=15, markeredgewidth=0),
    Line2D([], [], ls='none', marker='x', color='black', markersize=3.5, markeredgewidth=1.0),
    Line2D([], [], ls='none', marker='.', color=GREY, markersize=1.5),
]
labels = ['RGB', 'AGB', 'Li\u2212rich', 'non\u2212member', 'not observed']
axes[3].legend(handles, labels, loc='lower right', markerfirst=False, frameon=False, fontsize=12,
               handlelength=0.9, handletextpad=0.25, labelspacing=0.02, borderaxespad=0.35,
               borderpad=0.2)

fig.savefig('out.png', dpi=100)
